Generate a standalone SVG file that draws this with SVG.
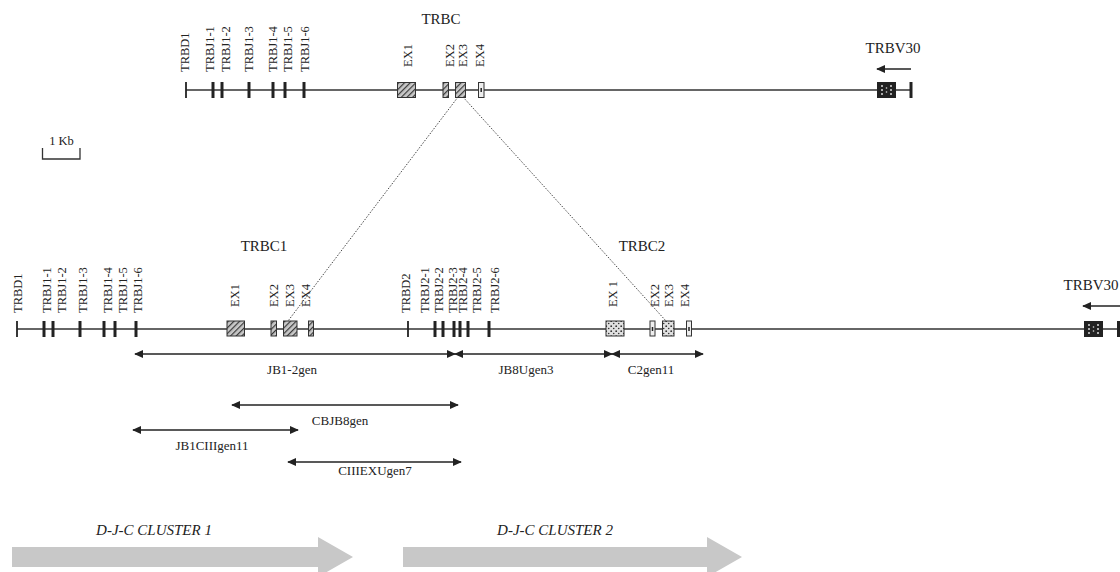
<svg xmlns="http://www.w3.org/2000/svg" width="1120" height="572" viewBox="0 0 1120 572">
<style>
.bg{fill:#fff}
.ln{stroke:#333;stroke-width:1.3;fill:none}
.tk{stroke:#222;stroke-width:3}
.tkt{stroke:#222;stroke-width:1.8}
.box{stroke:#333;stroke-width:1}
.vl{font-family:"Liberation Serif",serif;font-size:12.5px;fill:#222}
.lb{font-family:"Liberation Serif",serif;font-size:15px;fill:#222;text-anchor:middle}
.al{font-family:"Liberation Serif",serif;font-size:13px;fill:#222;text-anchor:middle}
.cl{font-family:"Liberation Serif",serif;font-size:15px;font-style:italic;fill:#222;text-anchor:middle}
.dot{stroke:#333;stroke-width:0.9;stroke-dasharray:1.5 1.5;fill:none}
.arr{stroke:#222;stroke-width:1.4;fill:none;marker-start:url(#ah);marker-end:url(#ah)}
.arr1{stroke:#222;stroke-width:1.4;fill:none;marker-end:url(#ah)}
.clu{fill:#c8c8c8}
</style>
<defs>
<pattern id="hatch" patternUnits="userSpaceOnUse" width="4" height="4" patternTransform="rotate(45)">
<rect width="4" height="4" fill="#c8c8c8"/>
<line x1="0" y1="0" x2="0" y2="4" stroke="#3a3a3a" stroke-width="2.4"/>
</pattern>
<pattern id="stip" patternUnits="userSpaceOnUse" width="5" height="5">
<rect width="5" height="5" fill="#e0e0e0"/>
<circle cx="1.2" cy="1.2" r="0.9" fill="#333"/>
<circle cx="3.7" cy="3.5" r="0.8" fill="#333"/>
</pattern>
<marker id="ah" viewBox="0 0 10 10" refX="9" refY="5" markerWidth="9" markerHeight="8" markerUnits="userSpaceOnUse" orient="auto-start-reverse" preserveAspectRatio="none">
<path d="M0,0 L10,5 L0,10 Z" fill="#222"/>
</marker>
</defs>
<rect class="bg" width="1120" height="572"/>

<g id="connectors">
<line class="dot" x1="458" y1="97" x2="288" y2="321"/>
<line class="dot" x1="463" y1="97" x2="666" y2="321"/>
<line class="arr1" x1="911" y1="69" x2="877" y2="69"/>
<line class="arr1" x1="1120" y1="306" x2="1083" y2="306"/>
<line class="arr" x1="135" y1="354" x2="455" y2="354"/>
<line class="arr" x1="455" y1="354" x2="612" y2="354"/>
<line class="arr" x1="612" y1="354" x2="703" y2="354"/>
<line class="arr" x1="232" y1="405" x2="458" y2="405"/>
<line class="arr" x1="133" y1="430" x2="298" y2="430"/>
<line class="arr" x1="288" y1="462" x2="461" y2="462"/>
</g>

<g id="top-locus">
<line class="ln" x1="186" y1="90" x2="911" y2="90"/>
<line class="tkt" x1="186" y1="82" x2="186" y2="98"/>
<line class="tk" x1="213" y1="82" x2="213" y2="98"/>
<line class="tk" x1="222" y1="82" x2="222" y2="98"/>
<line class="tk" x1="249" y1="82" x2="249" y2="98"/>
<line class="tk" x1="273" y1="82" x2="273" y2="98"/>
<line class="tk" x1="285" y1="82" x2="285" y2="98"/>
<line class="tk" x1="304" y1="82" x2="304" y2="98"/>
<line class="tk" x1="911" y1="82" x2="911" y2="98"/>
<rect class="box" x="397.5" y="82.5" width="18" height="15" fill="url(#hatch)"/>
<rect class="box" x="443" y="82.5" width="5.5" height="15" fill="url(#hatch)"/>
<rect class="box" x="455.5" y="82.5" width="10" height="15" fill="url(#hatch)"/>
<rect class="box" x="478.5" y="82.5" width="5.5" height="15" fill="#eee" stroke-width="1.6"/>
<line x1="481.2" y1="88" x2="481.2" y2="92" stroke="#222" stroke-width="1.5"/>
<rect x="877" y="82" width="19" height="16" fill="#222"/>
<g fill="#ddd"><circle cx="882" cy="86" r="1"/><circle cx="891" cy="86" r="1"/><circle cx="882" cy="90" r="1"/><circle cx="891" cy="90" r="1"/><circle cx="882" cy="94" r="1"/><circle cx="891" cy="94" r="1"/><circle cx="886.5" cy="88" r="0.8"/><circle cx="886.5" cy="92" r="0.8"/></g>
<text class="lb" x="441" y="24">TRBC</text>
<text class="lb" x="893" y="53">TRBV30</text>
<g class="vl">
<text transform="translate(189,72) rotate(-90)">TRBD1</text>
<text transform="translate(214,72) rotate(-90)">TRBJ1-1</text>
<text transform="translate(229.5,72) rotate(-90)">TRBJ1-2</text>
<text transform="translate(253,72) rotate(-90)">TRBJ1-3</text>
<text transform="translate(277,72) rotate(-90)">TRBJ1-4</text>
<text transform="translate(292,72) rotate(-90)">TRBJ1-5</text>
<text transform="translate(309,72) rotate(-90)">TRBJ1-6</text>
<text transform="translate(412,67) rotate(-90)">EX1</text>
<text transform="translate(454,67) rotate(-90)">EX2</text>
<text transform="translate(467,67) rotate(-90)">EX3</text>
<text transform="translate(484,67) rotate(-90)">EX4</text>
</g>
</g>

<g id="scale-bar">
<path class="ln" d="M42.5,148 V159 H80 V148"/>
<text class="vl" x="61.5" y="145" text-anchor="middle">1 Kb</text>
</g>

<g id="bottom-locus">
<line class="ln" x1="17" y1="329" x2="1120" y2="329"/>
<line class="tkt" x1="17" y1="321" x2="17" y2="337"/>
<line class="tk" x1="44" y1="321" x2="44" y2="337"/>
<line class="tk" x1="53" y1="321" x2="53" y2="337"/>
<line class="tk" x1="80" y1="321" x2="80" y2="337"/>
<line class="tk" x1="104" y1="321" x2="104" y2="337"/>
<line class="tk" x1="115" y1="321" x2="115" y2="337"/>
<line class="tk" x1="136" y1="321" x2="136" y2="337"/>
<line class="tkt" x1="408" y1="321" x2="408" y2="337"/>
<line class="tk" x1="435" y1="321" x2="435" y2="337"/>
<line class="tk" x1="443" y1="321" x2="443" y2="337"/>
<line class="tk" x1="454" y1="321" x2="454" y2="337"/>
<line class="tk" x1="460" y1="321" x2="460" y2="337"/>
<line class="tk" x1="468" y1="321" x2="468" y2="337"/>
<line class="tk" x1="489" y1="321" x2="489" y2="337"/>
<line class="tk" x1="1118.5" y1="321" x2="1118.5" y2="337"/>
<rect class="box" x="227" y="321" width="17.5" height="15" fill="url(#hatch)"/>
<rect class="box" x="271" y="321" width="5.5" height="15" fill="url(#hatch)"/>
<rect class="box" x="283.5" y="321" width="13.5" height="15" fill="url(#hatch)"/>
<rect class="box" x="308.5" y="321" width="5" height="15" fill="url(#hatch)"/>
<rect class="box" x="606" y="321" width="18" height="15" fill="url(#stip)"/>
<rect class="box" x="650" y="321" width="5" height="15" fill="#eee" stroke-width="1.6"/>
<line x1="652.5" y1="327" x2="652.5" y2="331" stroke="#222" stroke-width="1.5"/>
<rect class="box" x="662.5" y="321" width="11.5" height="15" fill="url(#stip)"/>
<rect class="box" x="686.5" y="321" width="5" height="15" fill="#eee" stroke-width="1.6"/>
<line x1="689" y1="327" x2="689" y2="331" stroke="#222" stroke-width="1.5"/>
<rect x="1084" y="321" width="19" height="16" fill="#222"/>
<g fill="#ddd"><circle cx="1089" cy="325" r="1"/><circle cx="1098" cy="325" r="1"/><circle cx="1089" cy="329" r="1"/><circle cx="1098" cy="329" r="1"/><circle cx="1089" cy="333" r="1"/><circle cx="1098" cy="333" r="1"/><circle cx="1093.5" cy="327" r="0.8"/><circle cx="1093.5" cy="331" r="0.8"/></g>
<text class="lb" x="264" y="251">TRBC1</text>
<text class="lb" x="642" y="251">TRBC2</text>
<text class="lb" x="1091" y="290">TRBV30</text>
<g class="vl">
<text transform="translate(22,313) rotate(-90)">TRBD1</text>
<text transform="translate(51,313) rotate(-90)">TRBJ1-1</text>
<text transform="translate(66,313) rotate(-90)">TRBJ1-2</text>
<text transform="translate(87,313) rotate(-90)">TRBJ1-3</text>
<text transform="translate(112,313) rotate(-90)">TRBJ1-4</text>
<text transform="translate(127,313) rotate(-90)">TRBJ1-5</text>
<text transform="translate(142,313) rotate(-90)">TRBJ1-6</text>
<text transform="translate(239,307) rotate(-90)">EX1</text>
<text transform="translate(278,307) rotate(-90)">EX2</text>
<text transform="translate(294,307) rotate(-90)">EX3</text>
<text transform="translate(310,307) rotate(-90)">EX4</text>
<text transform="translate(410,313) rotate(-90)">TRBD2</text>
<text transform="translate(429,313) rotate(-90)">TRBJ2-1</text>
<text transform="translate(443,313) rotate(-90)">TRBJ2-2</text>
<text transform="translate(457,313) rotate(-90)">TRBJ2-3</text>
<text transform="translate(467,313) rotate(-90)">TRBJ2-4</text>
<text transform="translate(481,313) rotate(-90)">TRBJ2-5</text>
<text transform="translate(499,313) rotate(-90)">TRBJ2-6</text>
<text transform="translate(617,307) rotate(-90)">EX 1</text>
<text transform="translate(659,307) rotate(-90)">EX2</text>
<text transform="translate(673,307) rotate(-90)">EX3</text>
<text transform="translate(689,307) rotate(-90)">EX4</text>
</g>
</g>

<g id="amplicon-labels">
<text class="al" x="292" y="374">JB1-2gen</text>
<text class="al" x="526" y="374">JB8Ugen3</text>
<text class="al" x="651" y="374">C2gen11</text>
<text class="al" x="340" y="425">CBJB8gen</text>
<text class="al" x="212" y="450">JB1CIIIgen11</text>
<text class="al" x="375" y="475">CIIIEXUgen7</text>
</g>

<g id="cluster1">
<text class="cl" x="154" y="535">D-J-C CLUSTER 1</text>
<path class="clu" d="M12,547 H318 V537 L353,557 L318,577 V567 H12 Z"/>
</g>
<g id="cluster2">
<text class="cl" x="555" y="535">D-J-C CLUSTER 2</text>
<path class="clu" d="M403,547 H707 V537 L742,557 L707,577 V567 H403 Z"/>
</g>
</svg>
